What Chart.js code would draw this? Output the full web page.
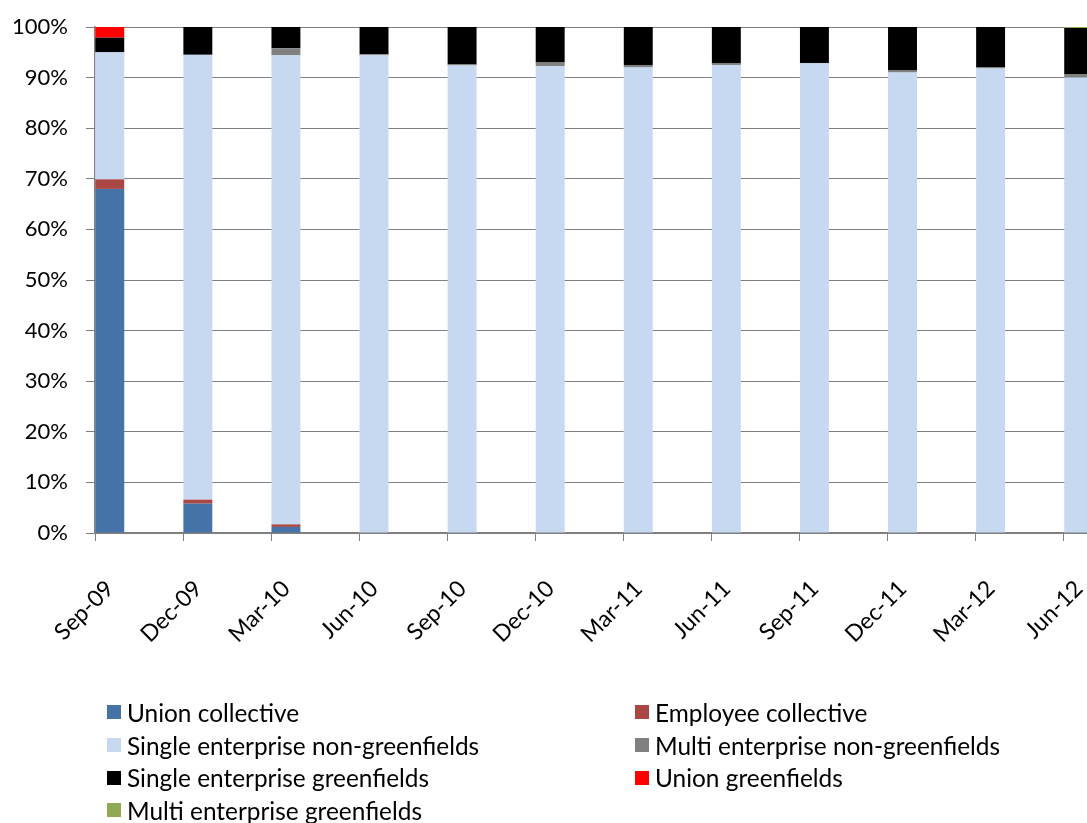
<!DOCTYPE html>
<html><head><meta charset="utf-8">
<script src="https://cdn.jsdelivr.net/npm/chart.js@4.4.1/dist/chart.umd.min.js"></script>
<style>
html,body{margin:0;padding:0;background:#fff;overflow:hidden;width:1087px;height:823px;}
#wrap{position:relative;width:1087px;height:823px;overflow:hidden;}
canvas{position:absolute;left:0;top:0;}
#legend{position:absolute;left:107px;top:696px;display:grid;grid-template-columns:528px auto;grid-auto-rows:32.7px;font-family:Lato,'Open Sans',sans-serif;font-size:24.4px;color:#000;}
.item{display:flex;align-items:center;white-space:nowrap;}
.sw{width:14px;height:14px;margin-right:6px;flex:none;}
</style></head><body>
<div id="wrap"><canvas id="c" width="1152" height="823"></canvas><div id="legend"></div></div>
<script>
const categories = ['Sep-09','Dec-09','Mar-10','Jun-10','Sep-10','Dec-10','Mar-11','Jun-11','Sep-11','Dec-11','Mar-12','Jun-12'];
const unionCollective = [68.0, 5.8, 1.2, 0, 0, 0, 0, 0, 0, 0, 0, 0];
const employeeCollective = [1.9, 0.8, 0.5, 0, 0, 0, 0, 0, 0, 0, 0, 0];
const singleNonGreenfields = [25.1, 87.9, 92.7, 94.4, 92.4, 92.3, 92.0, 92.5, 92.8, 91.0, 91.8, 90.0];
const multiNonGreenfields = [0, 0, 1.4, 0.2, 0.2, 0.7, 0.5, 0.4, 0.1, 0.4, 0.3, 0.6];
const singleGreenfields = [2.9, 5.5, 4.2, 5.4, 7.4, 7.0, 7.5, 7.1, 7.1, 8.6, 7.9, 9.2];
const unionGreenfields = [2.1, 0, 0, 0, 0, 0, 0, 0, 0, 0, 0, 0];
const multiGreenfields = [0, 0, 0, 0, 0, 0, 0, 0, 0, 0, 0, 0.2];
const yTicks = [0,10,20,30,40,50,60,70,80,90,100];

const FONT = {family: "Lato, 'Open Sans', sans-serif", size: 22};
const XFONT = {family: "Lato, 'Open Sans', sans-serif", size: 23};
const GRID = '#808080';

const series = [
  ['Union collective', unionCollective, '#4572A7'],
  ['Employee collective', employeeCollective, '#AA4643'],
  ['Single enterprise non-greenfields', singleNonGreenfields, '#C6D9F1'],
  ['Multi enterprise non-greenfields', multiNonGreenfields, '#808080'],
  ['Single enterprise greenfields', singleGreenfields, '#000000'],
  ['Union greenfields', unionGreenfields, '#FF0000'],
  ['Multi enterprise greenfields', multiGreenfields, '#8FAA52']
];

const datasets = [{label: '', data: categories.map(() => null), stack: 'pad', backgroundColor: 'rgba(0,0,0,0)'}]
  .concat(series.map(([label, data, color]) => ({label, data, stack: 'main', backgroundColor: color, borderWidth: 0})));

const chart = new Chart(document.getElementById('c'), {
  type: 'bar',
  data: {labels: categories.concat(['']), datasets},
  options: {
    responsive: false,
    animation: false,
    categoryPercentage: 59 / 88,
    barPercentage: 0.98,
    layout: {padding: {top: 27, right: 0, bottom: 0, left: 0}},
    plugins: {legend: {display: false}, tooltip: {enabled: false}},
    scales: {
      x: {
        type: 'category', offset: false, stacked: true,
        grid: {display: true, offset: false, drawOnChartArea: false, drawTicks: true, tickLength: 8, color: GRID, lineWidth: 1},
        border: {display: true, color: GRID, width: 1.5},
        ticks: {autoSkip: false, minRotation: 45, maxRotation: 45, labelOffset: 15, padding: 34, font: XFONT, color: '#000'},
        afterFit(s) { s.paddingLeft = 0; s.paddingRight = 0; s.height = 290; }
      },
      y: {
        stacked: true, min: 0, max: 100,
        afterBuildTicks(s) { s.ticks = yTicks.map(v => ({value: v})); },
        ticks: {callback: v => v + '%', padding: 18, font: FONT, color: '#000'},
        grid: {color: GRID, lineWidth: 1, tickLength: 9},
        border: {display: true, color: GRID, width: 1.5},
        afterFit(s) { s.width = 95; s.paddingTop = 0; s.paddingBottom = 0; }
      }
    }
  }
});

const legendEl = document.getElementById('legend');
Chart.defaults.plugins.legend.labels.generateLabels(chart)
  .filter(it => it.text !== '')
  .forEach(it => {
    const d = document.createElement('div');
    d.className = 'item';
    const sw = document.createElement('span');
    sw.className = 'sw';
    sw.style.background = it.fillStyle;
    const t = document.createElement('span');
    t.textContent = it.text;
    d.appendChild(sw); d.appendChild(t);
    legendEl.appendChild(d);
  });
</script>
</body></html>
